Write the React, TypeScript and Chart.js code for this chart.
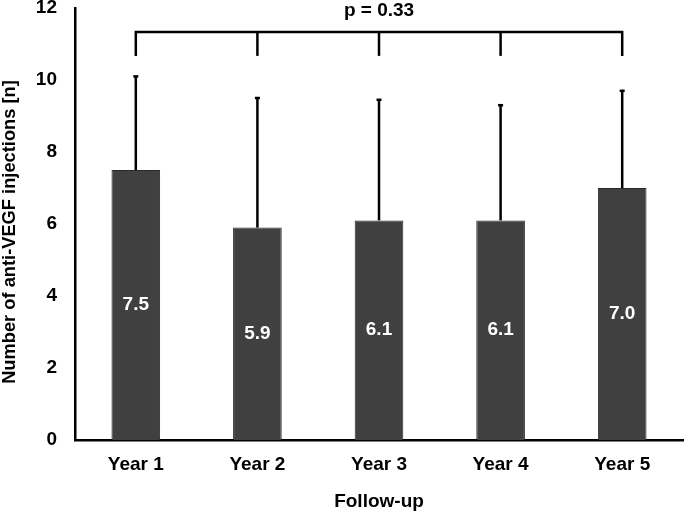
import React, { useEffect, useRef } from "react";
import { Chart, registerables } from "chart.js";

Chart.register(...registerables);

const categories = ["Year 1", "Year 2", "Year 3", "Year 4", "Year 5"];
const means = [7.5, 5.9, 6.1, 6.1, 7.0];
const sds = [2.6, 3.6, 3.35, 3.2, 2.7];
const valueLabels = ["7.5", "5.9", "6.1", "6.1", "7.0"];
const yTicks = [0, 2, 4, 6, 8, 10, 12];
const bracketTop = 11.33;
const bracketBottom = 10.67;
const pLabel = "p = 0.33";
const yTitle = "Number of anti-VEGF injections [n]";
const xTitle = "Follow-up";

const FONT = "'Liberation Sans', Arial, sans-serif";

const overlayPlugin = {
  id: "overlay",
  afterDatasetsDraw(chart: any) {
    const ctx = chart.ctx;
    const meta = chart.getDatasetMeta(0);
    const y = chart.scales.y;
    ctx.save();
    // error bars
    ctx.strokeStyle = "#000";
    ctx.lineWidth = 2.5;
    meta.data.forEach((bar: any, i: number) => {
      const x = bar.x;
      const top = y.getPixelForValue(means[i] + sds[i]);
      ctx.beginPath();
      ctx.moveTo(x, bar.y);
      ctx.lineTo(x, top);
      ctx.stroke();
      ctx.beginPath();
      ctx.moveTo(x - 2.5, top);
      ctx.lineTo(x + 2.5, top);
      ctx.stroke();
    });
    // value labels
    ctx.fillStyle = "#fff";
    ctx.font = `bold 19px ${FONT}`;
    ctx.textAlign = "center";
    ctx.textBaseline = "middle";
    meta.data.forEach((bar: any, i: number) => {
      ctx.fillText(valueLabels[i], bar.x, y.getPixelForValue(means[i] / 2));
    });
    // bracket
    const yt = y.getPixelForValue(bracketTop);
    const yb = y.getPixelForValue(bracketBottom);
    const first = meta.data[0].x;
    const last = meta.data[meta.data.length - 1].x;
    ctx.strokeStyle = "#000";
    ctx.lineWidth = 2.5;
    ctx.beginPath();
    ctx.moveTo(first, yb);
    ctx.lineTo(first, yt);
    ctx.lineTo(last, yt);
    ctx.lineTo(last, yb);
    ctx.stroke();
    meta.data.slice(1, -1).forEach((bar: any) => {
      ctx.beginPath();
      ctx.moveTo(bar.x, yt);
      ctx.lineTo(bar.x, yb);
      ctx.stroke();
    });
    ctx.fillStyle = "#000";
    ctx.font = `bold 19px ${FONT}`;
    ctx.textBaseline = "middle";
    ctx.fillText(pLabel, (first + last) / 2, 11);
    // y-axis title
    ctx.translate(9, 232);
    ctx.rotate(-Math.PI / 2);
    ctx.font = `bold 18.3px ${FONT}`;
    ctx.textAlign = "center";
    ctx.textBaseline = "middle";
    ctx.fillText(yTitle, 0, 1);
    ctx.restore();
  },
};

export default function App() {
  const ref = useRef<HTMLCanvasElement>(null);
  useEffect(() => {
    if (!ref.current) return;
    const chart = new Chart(ref.current, {
      type: "bar",
      data: {
        labels: categories,
        datasets: [
          {
            data: means,
            backgroundColor: "#404040",
            borderColor: "#2a2a2a",
            borderWidth: 1,
            categoryPercentage: 1,
            barPercentage: 0.4,
          },
        ],
      },
      options: {
        animation: false,
        responsive: false,
        maintainAspectRatio: false,
        layout: { padding: { top: 8, right: 2, left: 0, bottom: 0 } },
        plugins: { legend: { display: false }, tooltip: { enabled: false } },
        scales: {
          x: {
            grid: { display: false, drawTicks: false },
            border: { display: true, color: "#000", width: 2.5 },
            ticks: {
              color: "#000",
              padding: 13,
              font: { family: FONT, size: 19, weight: "bold" },
            },
            title: {
              display: true,
              text: xTitle,
              color: "#000",
              font: { family: FONT, size: 19, weight: "bold" },
              padding: { top: 9, bottom: 0 },
            },
            afterFit(scale: any) {
              scale.height = 73;
              scale.paddingLeft = 0;
              scale.paddingRight = 0;
            },
          },
          y: {
            min: 0,
            max: 12,
            grid: { display: false, drawTicks: false },
            border: { display: true, color: "#000", width: 2.5 },
            afterBuildTicks(scale: any) {
              scale.ticks = yTicks.map((v) => ({ value: v }));
            },
            ticks: {
              color: "#000",
              padding: 18,
              font: { family: FONT, size: 19, weight: "bold" },
            },
            title: { display: false },
            afterFit(scale: any) {
              scale.width = 75;
              scale.paddingTop = 0;
              scale.paddingBottom = 0;
            },
          },
        },
      },
      plugins: [overlayPlugin],
    });
    return () => chart.destroy();
  }, []);
  return (
    <div style={{ position: "absolute", left: 0, top: 0, width: 685, height: 513, background: "#fff" }}>
      <canvas ref={ref} width={685} height={513} style={{ width: 685, height: 513 }} />
    </div>
  );
}
